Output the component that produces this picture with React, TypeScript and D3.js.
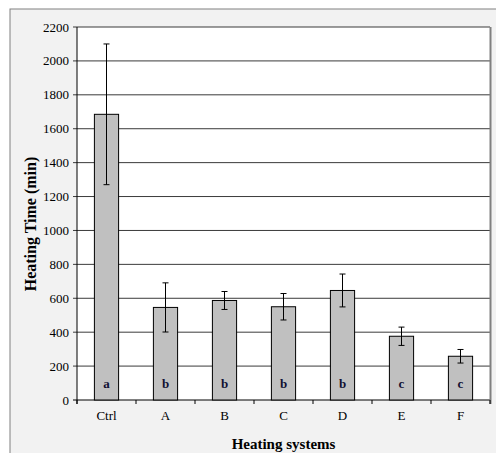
import React from "react";
import * as d3 from "d3";

const categories = ["Ctrl", "A", "B", "C", "D", "E", "F"];
const means = [1685, 546, 587, 550, 646, 376, 258];
const errors = [415, 145, 53, 78, 97, 54, 40];
const letters = ["a", "b", "b", "b", "b", "c", "c"];
const yTicks = [0, 200, 400, 600, 800, 1000, 1200, 1400, 1600, 1800, 2000, 2200];

export default function App() {
  const W = 496, H = 453;
  const left = 77, right = 490, top = 27, bottom = 400;
  const x = d3.scaleBand<string>().domain(categories).range([left, right]);
  const y = d3.scaleLinear().domain([0, 2200]).range([bottom, top]);
  const bw = x.bandwidth() * 0.41;
  const font = "'Liberation Serif', 'Times New Roman', serif";
  return (
    <svg width={W} height={H} style={{ position: "absolute", left: 0, top: 0 }} fontFamily={font}>
      <rect x={0} y={0} width={W} height={H} fill="#ffffff" />
      <rect x={10} y={9} width={W + 10} height={H + 10} fill="#f2f2f2" stroke="#808080" strokeWidth={1} />
      <rect x={left} y={top} width={right - left} height={bottom - top} fill="#ffffff" />
      {yTicks.map((t) => (
        <g key={t}>
          <line x1={left - 4} x2={right} y1={y(t)} y2={y(t)} stroke={t === 0 ? "#000" : "#3a3a3a"} strokeWidth={1} />
          <text x={69} y={y(t)} dy="0.35em" textAnchor="end" fontSize={13} fill="#000">{t}</text>
        </g>
      ))}
      <line x1={right + 0.5} x2={right + 0.5} y1={top} y2={bottom + 4} stroke="#808080" strokeWidth={2} />
      {categories.map((c, i) => {
        const cx = (x(c) as number) + x.bandwidth() / 2;
        return (
          <g key={c}>
            <rect x={cx - bw / 2} y={y(means[i])} width={bw} height={bottom - y(means[i])} fill="#c0c0c0" stroke="#000" strokeWidth={1} />
            <line x1={cx} x2={cx} y1={y(means[i] + errors[i])} y2={y(means[i] - errors[i])} stroke="#000" strokeWidth={1} />
            <line x1={cx - 3} x2={cx + 3} y1={y(means[i] + errors[i])} y2={y(means[i] + errors[i])} stroke="#000" strokeWidth={1} />
            <line x1={cx - 3} x2={cx + 3} y1={y(means[i] - errors[i])} y2={y(means[i] - errors[i])} stroke="#000" strokeWidth={1} />
            <text x={cx} y={388} textAnchor="middle" fontSize={13} fontWeight="bold" fill="#111133">{letters[i]}</text>
            <text x={cx} y={420} textAnchor="middle" fontSize={13} fill="#000">{c}</text>
          </g>
        );
      })}
      {d3.range(categories.length + 1).map((i) => {
        const tx = left + i * x.step();
        return <line key={i} x1={tx} x2={tx} y1={bottom} y2={bottom + 4} stroke="#000" strokeWidth={1} />;
      })}
      <line x1={left} x2={left} y1={top} y2={bottom + 4} stroke="#000" strokeWidth={1} />
      <text transform={`translate(30,224) rotate(-90)`} textAnchor="middle" dy="0.35em" fontSize={16} fontWeight="bold" fill="#000">Heating Time (min)</text>
      <text x={(left + right) / 2} y={449} textAnchor="middle" fontSize={15} fontWeight="bold" fill="#000">Heating systems</text>
    </svg>
  );
}
